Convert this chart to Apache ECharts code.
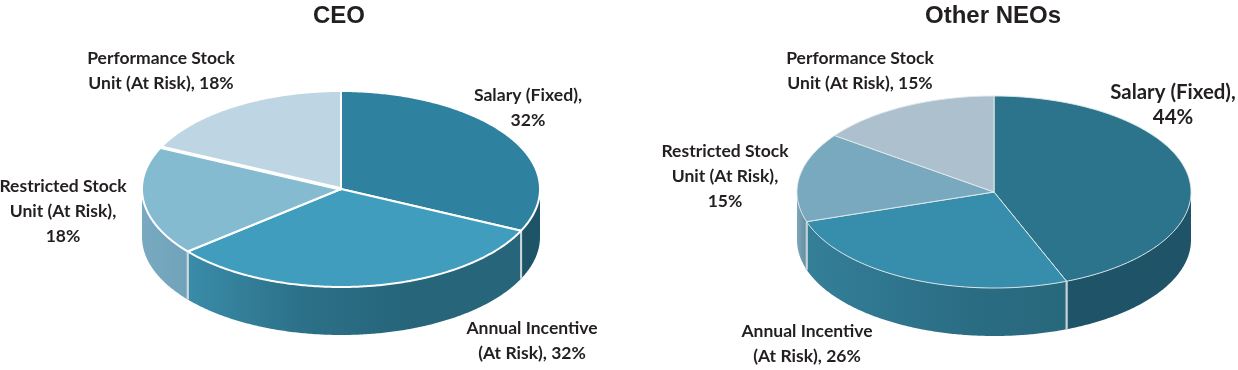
<!DOCTYPE html>
<html>
<head>
<meta charset="utf-8">
<style>
  html, body { margin: 0; padding: 0; background: #fff; }
  #chart { width: 1238px; height: 370px; }
</style>
<script src="https://cdn.jsdelivr.net/npm/echarts@6/dist/echarts.min.js"></script>
</head>
<body>
<div id="chart"></div>
<script>
const labelLines = [
  "Salary (Fixed),\n",
  "Annual Incentive\n(At Risk), ",
  "Restricted Stock\nUnit (At Risk),\n",
  "Performance Stock\nUnit (At Risk), ",
];
const ceoValues = [32, 32, 18, 18];
const neoValues = [44, 26, 15, 15];

const fontFamily = "Lato, 'Noto Sans', sans-serif";

// ellipse geometry and colours for each pie, drawing only
const ceoStyle = {
  cx: 341, cy: 189, rx: 199, ry: 98, depth: 48,
  stroke: "#ffffff", lineWidth: 2, wallLine: "#cfd8dc", edge: [0, 0, 0, 3.5],
  top: ["#2f829f", "#409dbd", "#84bbd1", "#bed6e4"],
  wall: [["#1e5468", "#1e5468"], ["#3a8ca9", "#2c7189", "#26657a", "#26657a"], ["#78a9c0", "#70a3ba"], ["#bed6e4", "#bed6e4"]],
  labelPos: [[528, 108], [532, 341], [63, 211], [161, 71]],
  labelSize: [17.6, 17.5, 17.5, 17.5],
};
const neoStyle = {
  cx: 994, cy: 192, rx: 197, ry: 96, depth: 48,
  stroke: "#dfe7ea", lineWidth: 1, wallLine: "#c5d0d5", edge: [0, 0, 0, 0],
  top: ["#2c738c", "#368eac", "#78a9bf", "#acc0cd"],
  wall: [["#1f5367", "#1f5367"], ["#347f98", "#2f758e", "#2a6c82", "#28687d"], ["#7fa6b7", "#5e8ea3"], ["#acc0cd", "#acc0cd"]],
  labelPos: [[1173, 105], [807, 344], [725, 176], [860, 71]],
  labelSize: [20.4, 17.5, 17.5, 17.5],
};

const angleOf = (v) => echarts.number.linearMap(v, [0, 100], [0, Math.PI * 2]);

function arcPoints(s, a0, a1, dy) {
  const n = Math.max(2, Math.ceil((a1 - a0) / 0.01));
  const pts = [];
  for (let i = 0; i <= n; i++) {
    const a = a0 + ((a1 - a0) * i) / n;
    pts.push([s.cx + s.rx * Math.sin(a), s.cy - s.ry * Math.cos(a) + dy]);
  }
  return pts;
}

function pieRenderer(values, s) {
  return function (params, api) {
    const i = params.dataIndex;
    const before = values.slice(0, i).reduce((a, b) => a + b, 0);
    const a0 = angleOf(before);
    const a1 = angleOf(before + api.value(0));
    const children = [];

    // side wall, only the front half of the ellipse shows it
    const w0 = Math.max(a0, Math.PI / 2);
    const w1 = Math.min(a1, Math.PI * 1.5);
    if (w1 > w0) {
      const upper = arcPoints(s, w0, w1, 0);
      const lower = arcPoints(s, w0, w1, s.depth).reverse();
      const stops = s.wall[i].map((color, k) => ({ offset: k / (s.wall[i].length - 1), color }));
      children.push({
        type: "polygon",
        shape: { points: upper.concat(lower) },
        style: { fill: new echarts.graphic.LinearGradient(0, 0, 1, 0, stops) },
      });
      [a0, a1].forEach((a) => {
        if (a > Math.PI / 2 && a < Math.PI * 1.5) {
          const p = arcPoints(s, a, a, 0)[0];
          children.push({
            type: "line",
            shape: { x1: p[0], y1: p[1], x2: p[0], y2: p[1] + s.depth },
            style: { stroke: s.wallLine, lineWidth: 2 },
          });
        }
      });
    }

    children.push({
      type: "polygon",
      shape: { points: [[s.cx, s.cy]].concat(arcPoints(s, a0, a1, 0)) },
      style: { fill: s.top[i], stroke: s.stroke, lineWidth: s.lineWidth, lineJoin: "round" },
    });

    // the CEO pie has a wider gap along one edge
    if (s.edge[i]) {
      const p = arcPoints(s, a0, a0, 0)[0];
      children.push({
        type: "line",
        shape: { x1: s.cx, y1: s.cy, x2: p[0], y2: p[1] },
        style: { stroke: s.stroke, lineWidth: s.edge[i] },
      });
    }

    children.push({
      type: "text",
      style: {
        text: labelLines[i] + api.value(0) + "%",
        x: s.labelPos[i][0],
        y: s.labelPos[i][1],
        align: "center",
        verticalAlign: "middle",
        fontFamily,
        fontWeight: "bold",
        fontSize: s.labelSize[i],
        lineHeight: 25,
        fill: "#231f20",
      },
    });
    return { type: "group", children };
  };
}

const chart = echarts.init(document.getElementById("chart"), null, { renderer: "canvas" });
chart.setOption({
  animation: false,
  title: [
    { text: "CEO", left: 334, top: -1, textAlign: "center",
      textStyle: { fontFamily: "'Liberation Sans', Arial", fontWeight: "bold", fontSize: 24, color: "#231f20" } },
    { text: "Other NEOs", left: 988, top: -1, textAlign: "center",
      textStyle: { fontFamily: "'Liberation Sans', Arial", fontWeight: "bold", fontSize: 24, color: "#231f20" } },
  ],
  series: [
    { type: "custom", coordinateSystem: "none", data: ceoValues.map((v) => [v]), renderItem: pieRenderer(ceoValues, ceoStyle) },
    { type: "custom", coordinateSystem: "none", data: neoValues.map((v) => [v]), renderItem: pieRenderer(neoValues, neoStyle) },
  ],
});
</script>
</body>
</html>
